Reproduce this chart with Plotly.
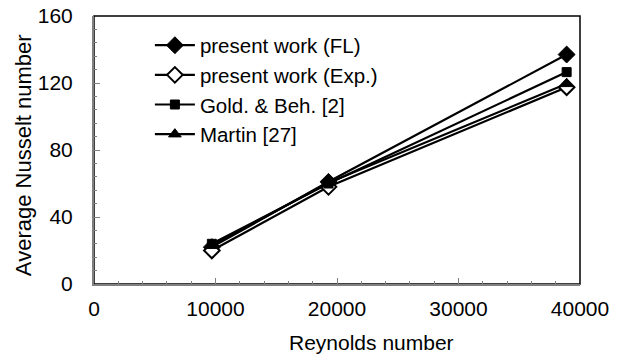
import plotly.graph_objects as go

reynolds = [9700, 19300, 38900]
nu_fl = [22, 61, 137]
nu_exp = [20, 58, 117.5]
nu_gold = [24, 60, 126.5]
nu_martin = [23, 60.5, 119.5]

series_names = ["present work (FL)", "present work (Exp.)", "Gold. & Beh. [2]", "Martin [27]"]
x_ticks = [0, 10000, 20000, 30000, 40000]
y_ticks = [0, 40, 80, 120, 160]
x_title = "Reynolds number"
y_title = "Average Nusselt number"

FONT = "Liberation Sans, Arial, sans-serif"
FS = 21

fig = go.Figure()
styles = [
    (nu_fl, dict(symbol="diamond", size=13, color="black", line=dict(color="black", width=1))),
    (nu_exp, dict(symbol="diamond", size=12, color="white", line=dict(color="black", width=2))),
    (nu_gold, dict(symbol="square", size=9, color="black", line=dict(color="black", width=1))),
    (nu_martin, dict(symbol="triangle-up", size=11, color="black", line=dict(color="black", width=1))),
]
for i, (vals, mk) in enumerate(styles):
    fig.add_trace(go.Scatter(
        x=reynolds, y=vals, mode="lines+markers", name=series_names[i],
        line=dict(color="black", width=2.2), marker=mk, legendgroup=f"g{i}",
    ))

fig.add_shape(type="rect", xref="paper", yref="paper", x0=0, y0=0, x1=1, y1=1,
              line=dict(color="black", width=1.5), layer="below")

axis_common = dict(
    showgrid=False, zeroline=False, showline=True, linecolor="#808080", linewidth=2,
    ticks="inside", ticklen=6, tickcolor="#808080", tickwidth=1,
    tickfont=dict(family=FONT, size=FS, color="black"), automargin=False,
    ticklabeloverflow="allow",
)
fig.update_xaxes(range=[0, 40000], tickvals=x_ticks, ticktext=[str(v) for v in x_ticks],
                 minor=dict(ticks="inside", ticklen=3, tickcolor="#808080", dtick=2000, tick0=0),
                 ticklabelstandoff=5, **axis_common)
fig.update_yaxes(range=[0, 160], tickvals=y_ticks, ticktext=[str(v) for v in y_ticks],
                 minor=dict(ticks="inside", ticklen=3, tickcolor="#808080", dtick=8, tick0=0),
                 ticklabelstandoff=15, **axis_common)

fig.add_annotation(text=x_title, xref="paper", yref="paper", x=0.572, y=-0.22,
                   xanchor="center", yanchor="middle", showarrow=False,
                   font=dict(family=FONT, size=FS, color="black"))
fig.add_annotation(text=y_title, xref="paper", yref="paper", x=-0.146, y=0.481,
                   xanchor="center", yanchor="middle", showarrow=False, textangle=-90,
                   font=dict(family=FONT, size=22, color="black"))

fig.update_layout(
    width=622, height=358,
    margin=dict(l=94, r=42, t=16, b=74),
    paper_bgcolor="white", plot_bgcolor="white",
    font=dict(family=FONT, size=FS, color="black"),
    showlegend=True,
    legend=dict(x=0.115, y=0.965, xanchor="left", yanchor="top", bgcolor="rgba(0,0,0,0)",
                font=dict(family=FONT, size=20.5, color="black"), itemwidth=40,
                tracegroupgap=0, traceorder="grouped"),
)

fig.write_html("out.html", config={"displayModeBar": False},
               post_script="document.body.style.margin='0';")
